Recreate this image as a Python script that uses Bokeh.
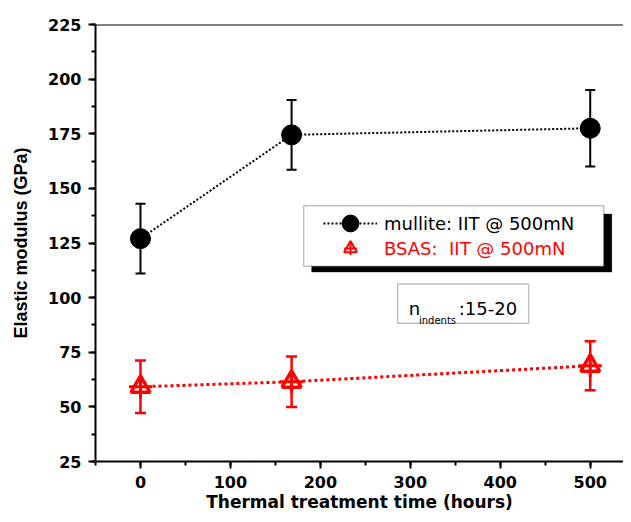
from bokeh.plotting import figure
from bokeh.models import (Range1d, SingleIntervalTicker, Whisker, TeeHead, ColumnDataSource,
                          Span, BoxAnnotation, Label, Legend, LegendItem)
from bokeh.embed import file_html
from bokeh.resources import INLINE

# Data
hours = [0, 168, 500]
mullite_E = [127, 174.5, 177.5]
mullite_err = [16, 16, 17.5]
bsas_E = [59.2, 61.5, 68.8]
bsas_err = [12, 11.5, 11.2]

x_label = "Thermal treatment time (hours)"
y_label = "Elastic modulus (GPa)"
mullite_label = "mullite: IIT @ 500mN"
bsas_label = "BSAS:  IIT @ 500mN"

FONT = "DejaVu Sans"
YFONT = "Liberation Sans"

src_m = ColumnDataSource(dict(x=hours, y=mullite_E,
                              lo=[v - e for v, e in zip(mullite_E, mullite_err)],
                              hi=[v + e for v, e in zip(mullite_E, mullite_err)]))
src_b = ColumnDataSource(dict(x=hours, y=bsas_E,
                              lo=[v - e for v, e in zip(bsas_E, bsas_err)],
                              hi=[v + e for v, e in zip(bsas_E, bsas_err)]))

p = figure(width=623, height=514, output_backend="svg", toolbar_location=None,
           x_range=Range1d(-50, 537), y_range=Range1d(25, 225),
           min_border_left=95, min_border_right=0, min_border_top=24, min_border_bottom=53)
p.outline_line_color = None
p.grid.visible = False
p.background_fill_color = "white"

for ax, tick in ((p.xaxis[0], 100), (p.yaxis[0], 25)):
    ax.ticker = SingleIntervalTicker(interval=tick, num_minor_ticks=2)
    ax.axis_line_width = 2
    ax.major_tick_line_width = 2
    ax.minor_tick_line_width = 2
    ax.major_tick_in = 0
    ax.major_tick_out = 7
    ax.minor_tick_in = 0
    ax.minor_tick_out = 4
    ax.major_label_text_font = FONT
    ax.major_label_text_font_style = "bold"
    ax.major_label_text_font_size = "16px"
    ax.major_label_text_color = "black"

p.yaxis.axis_label = y_label
p.yaxis.axis_label_text_font = YFONT
p.yaxis.axis_label_text_font_style = "bold"
p.yaxis.axis_label_text_font_size = "18px"
p.yaxis.axis_label_text_color = "black"
p.yaxis.major_label_standoff = 7
p.yaxis.axis_label_standoff = 14

p.xaxis.axis_label = x_label
p.xaxis.axis_label_text_font = FONT
p.xaxis.axis_label_text_font_style = "bold"
p.xaxis.axis_label_text_font_size = "17px"
p.xaxis.axis_label_text_color = "black"
p.xaxis.major_label_standoff = 7
p.xaxis.axis_label_standoff = 1

p.add_layout(Span(location=225, dimension="width", line_color="black", line_width=2))

# mullite
lm = p.line("x", "y", source=src_m, line_color="black", line_width=2, line_dash="2 2")
p.add_layout(Whisker(source=src_m, base="x", lower="lo", upper="hi", line_color="black", line_width=2,
                     lower_head=TeeHead(size=10, line_color="black", line_width=2),
                     upper_head=TeeHead(size=10, line_color="black", line_width=2)))
sm = p.scatter("x", "y", source=src_m, marker="circle", size=20, fill_color="black", line_color="black")

# BSAS
lb = p.line("x", "y", source=src_b, line_color="red", line_width=3, line_dash="3 3")
p.add_layout(Whisker(source=src_b, base="x", lower="lo", upper="hi", line_color="red", line_width=2.5,
                     lower_head=TeeHead(size=11, line_color="red", line_width=2.5),
                     upper_head=TeeHead(size=11, line_color="red", line_width=2.5)))
sb = p.scatter("x", "y", source=src_b, marker="triangle", size=19, fill_color="white",
               line_color="red", line_width=3.5)
sbc = p.scatter("x", "y", source=src_b, marker="cross", size=23, line_color="red", line_width=3)

# legend-only glyph styles for the BSAS key (a single NaN point, never drawn in the plot)
key_src = ColumnDataSource(dict(x=[float("nan")], y=[float("nan")]))
kb = p.scatter("x", "y", source=key_src, marker="triangle", fill_color="white", line_color="red", line_width=2)
kbc = p.scatter("x", "y", source=key_src, marker="cross", line_color="red", line_width=2)

# legend box with shadow
p.add_layout(BoxAnnotation(left=190.3, right=524, top=138.3, bottom=111.7, fill_color="black",
                           fill_alpha=1, line_color="black", level="overlay"))
p.add_layout(BoxAnnotation(left=181.4, right=515, top=142, bottom=114.4, fill_color="white",
                           fill_alpha=1, line_color="#333333", line_width=1.5, level="overlay"))

leg1 = Legend(items=[LegendItem(label=mullite_label, renderers=[lm, sm])], location=(228, 217),
              glyph_width=54, glyph_height=42, label_height=42, label_standoff=7, padding=0, margin=0,
              spacing=0, border_line_color=None, background_fill_alpha=0,
              label_text_font=FONT, label_text_font_size="18px", label_text_color="black")
leg2 = Legend(items=[LegendItem(label=bsas_label, renderers=[kb, kbc], index=0)], location=(228, 197),
              glyph_width=54, glyph_height=32, label_height=30, label_standoff=7, padding=0, margin=0,
              spacing=0, border_line_color=None, background_fill_alpha=0,
              label_text_font=FONT, label_text_font_size="18px", label_text_color="red")
p.add_layout(leg1, "center")
p.add_layout(leg2, "center")

# n_indents box
p.add_layout(BoxAnnotation(left=285.9, right=431.6, top=106.2, bottom=88.3, fill_color="white",
                           fill_alpha=1, line_color="#333333", line_width=1.5, level="overlay"))
p.add_layout(Label(x=298.2, y=95.2, text="n", text_font=FONT, text_font_size="18px",
                   text_baseline="alphabetic", text_color="black", level="overlay"))
p.add_layout(Label(x=309.6, y=89.5, text="indents", text_font=FONT, text_font_size="10px",
                   text_baseline="alphabetic", text_color="black", level="overlay"))
p.add_layout(Label(x=353.8, y=95.2, text=":15-20", text_font=FONT, text_font_size="18px",
                   text_baseline="alphabetic", text_color="black", level="overlay"))

open("out.html", "w").write(file_html(p, INLINE))
